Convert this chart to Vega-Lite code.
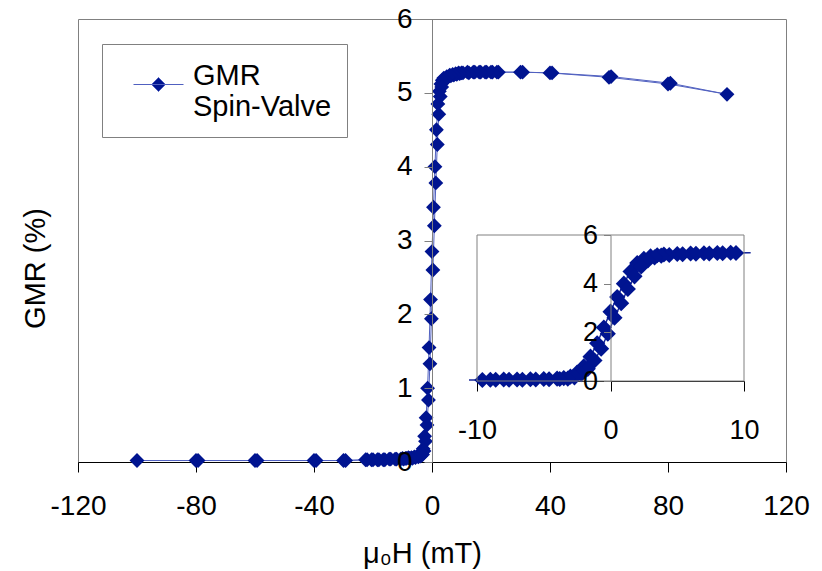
{
  "$schema": "https://vega.github.io/schema/vega-lite/v6.json",
  "width": 708,
  "height": 443,
  "autosize": {"type": "none"},
  "padding": {"left": 78, "top": 19, "right": 36, "bottom": 109},
  "config": {
    "font": "Liberation Sans",
    "view": {"stroke": "#808080", "strokeWidth": 1},
    "axis": {"grid": false, "labelColor": "black", "titleColor": "black", "titleFontWeight": "normal", "labelFont": "Liberation Sans", "titleFont": "Liberation Sans"}
  },
  "data": {
    "values": [
      {"i": 0, "x": -100, "y": 0.02}, {"i": 1, "x": -80, "y": 0.02}, {"i": 2, "x": -60, "y": 0.02}, {"i": 3, "x": -40, "y": 0.02},
      {"i": 4, "x": -30, "y": 0.02}, {"i": 5, "x": -22, "y": 0.03}, {"i": 6, "x": -20, "y": 0.03}, {"i": 7, "x": -18, "y": 0.03},
      {"i": 8, "x": -16, "y": 0.03}, {"i": 9, "x": -14, "y": 0.04}, {"i": 10, "x": -12, "y": 0.04}, {"i": 11, "x": -10, "y": 0.05},
      {"i": 12, "x": -9, "y": 0.05}, {"i": 13, "x": -8, "y": 0.06}, {"i": 14, "x": -7, "y": 0.06}, {"i": 15, "x": -6, "y": 0.07},
      {"i": 16, "x": -5, "y": 0.08}, {"i": 17, "x": -4, "y": 0.1}, {"i": 18, "x": -3.5, "y": 0.12}, {"i": 19, "x": -3, "y": 0.18},
      {"i": 20, "x": -2.5, "y": 0.35}, {"i": 21, "x": -2, "y": 0.6}, {"i": 22, "x": -1.5, "y": 1.0}, {"i": 23, "x": -1, "y": 1.55},
      {"i": 24, "x": -0.5, "y": 2.2}, {"i": 25, "x": 0, "y": 2.85}, {"i": 26, "x": 0.5, "y": 3.45}, {"i": 27, "x": 1, "y": 4.0},
      {"i": 28, "x": 1.5, "y": 4.5}, {"i": 29, "x": 2, "y": 4.85}, {"i": 30, "x": 2.5, "y": 5.02}, {"i": 31, "x": 3, "y": 5.12},
      {"i": 32, "x": 3.5, "y": 5.17}, {"i": 33, "x": 4, "y": 5.2}, {"i": 34, "x": 5, "y": 5.22}, {"i": 35, "x": 6, "y": 5.24},
      {"i": 36, "x": 7, "y": 5.25}, {"i": 37, "x": 8, "y": 5.26}, {"i": 38, "x": 9, "y": 5.27}, {"i": 39, "x": 10, "y": 5.27},
      {"i": 40, "x": 12, "y": 5.28}, {"i": 41, "x": 14, "y": 5.28}, {"i": 42, "x": 16, "y": 5.28}, {"i": 43, "x": 18, "y": 5.28},
      {"i": 44, "x": 20, "y": 5.28}, {"i": 45, "x": 22, "y": 5.28}, {"i": 46, "x": 30, "y": 5.28}, {"i": 47, "x": 40, "y": 5.27},
      {"i": 48, "x": 60, "y": 5.21}, {"i": 49, "x": 80, "y": 5.12}, {"i": 50, "x": 100, "y": 4.98},
      {"i": 51, "x": 80.8, "y": 5.13}, {"i": 52, "x": 60.7, "y": 5.22}, {"i": 53, "x": 40.7, "y": 5.27}, {"i": 54, "x": 30.7, "y": 5.28},
      {"i": 55, "x": 22.5, "y": 5.28}, {"i": 56, "x": 20.5, "y": 5.28}, {"i": 57, "x": 18.5, "y": 5.28}, {"i": 58, "x": 16.5, "y": 5.28},
      {"i": 59, "x": 14.5, "y": 5.28}, {"i": 60, "x": 12.5, "y": 5.27}, {"i": 61, "x": 10.5, "y": 5.27}, {"i": 62, "x": 9.4, "y": 5.26},
      {"i": 63, "x": 8.4, "y": 5.25}, {"i": 64, "x": 7.4, "y": 5.24}, {"i": 65, "x": 6.4, "y": 5.23}, {"i": 66, "x": 5.4, "y": 5.21},
      {"i": 67, "x": 4.4, "y": 5.18}, {"i": 68, "x": 3.8, "y": 5.15}, {"i": 69, "x": 3.3, "y": 5.08}, {"i": 70, "x": 2.8, "y": 4.95},
      {"i": 71, "x": 2.3, "y": 4.71}, {"i": 72, "x": 1.8, "y": 4.3}, {"i": 73, "x": 1.3, "y": 3.78}, {"i": 74, "x": 0.8, "y": 3.2},
      {"i": 75, "x": 0.3, "y": 2.6}, {"i": 76, "x": -0.2, "y": 1.94}, {"i": 77, "x": -0.7, "y": 1.33}, {"i": 78, "x": -1.2, "y": 0.84},
      {"i": 79, "x": -1.7, "y": 0.5}, {"i": 80, "x": -2.2, "y": 0.28}, {"i": 81, "x": -2.7, "y": 0.15}, {"i": 82, "x": -3.2, "y": 0.1},
      {"i": 83, "x": -3.8, "y": 0.08}, {"i": 84, "x": -4.6, "y": 0.07}, {"i": 85, "x": -5.6, "y": 0.06}, {"i": 86, "x": -6.6, "y": 0.05},
      {"i": 87, "x": -7.6, "y": 0.05}, {"i": 88, "x": -8.6, "y": 0.05}, {"i": 89, "x": -9.6, "y": 0.04}, {"i": 90, "x": -10.6, "y": 0.04},
      {"i": 91, "x": -12.5, "y": 0.04}, {"i": 92, "x": -14.5, "y": 0.04}, {"i": 93, "x": -16.5, "y": 0.03}, {"i": 94, "x": -18.5, "y": 0.03},
      {"i": 95, "x": -20.5, "y": 0.03}, {"i": 96, "x": -22.5, "y": 0.03}, {"i": 97, "x": -29.3, "y": 0.02}, {"i": 98, "x": -39.3, "y": 0.02},
      {"i": 99, "x": -59.3, "y": 0.02}, {"i": 100, "x": -79.3, "y": 0.02}
    ]
  },
  "layer": [
    {
      "layer": [
        {
          "mark": {"type": "line", "color": "#5060c0", "strokeWidth": 1},
          "encoding": {
            "x": {"field": "x", "type": "quantitative", "scale": {"domain": [-120, 120], "nice": false, "zero": false},
              "axis": {"orient": "bottom", "values": [-120, -80, -40, 0, 40, 80, 120], "labelExpr": "'' + datum.value", "title": "μ₀H (mT)", "titleFontSize": 29, "labelFontSize": 28, "tickSize": 10, "domainColor": "black", "tickColor": "black", "labelPadding": 20, "titleX": 344, "titleY": 91, "titleBaseline": "middle", "labelFlush": false, "labelOverlap": false}},
            "y": {"field": "y", "type": "quantitative", "scale": {"domain": [0, 6], "nice": false},
              "axis": {"orient": "left", "offset": -354, "values": [0, 1, 2, 3, 4, 5, 6], "labelExpr": "'' + datum.value", "title": "GMR (%)", "titleFontSize": 29, "labelFontSize": 28, "tickSize": 8, "domainColor": "#808080", "tickColor": "#808080", "labelPadding": 12, "titleX": -397, "titleY": 249, "titleBaseline": "middle", "labelFlush": false, "labelOverlap": false, "zindex": 1}},
            "order": {"field": "i", "type": "quantitative"}
          }
        },
        {
          "mark": {"type": "point", "shape": "diamond", "filled": true, "size": 220, "opacity": 1},
          "encoding": {
            "x": {"field": "x", "type": "quantitative", "scale": {"domain": [-120, 120], "nice": false, "zero": false}},
            "y": {"field": "y", "type": "quantitative", "scale": {"domain": [0, 6], "nice": false}},
            "color": {"datum": "GMR Spin-Valve", "scale": {"range": ["#001490"]},
              "legend": {"orient": "none", "legendX": 24, "legendY": 25, "title": null, "padding": 15, "strokeColor": "#808080", "fillColor": "white",
                "symbolType": "M-1,0L1,0M0,-0.28L0.28,0L0,0.28L-0.28,0Z", "symbolSize": 2500, "symbolStrokeColor": "#5060c0", "symbolStrokeWidth": 1, "symbolFillColor": "#001490", "symbolOffset": 16,
                "labelFontSize": 29, "labelOffset": 9, "labelBaseline": "alphabetic", "labelExpr": "['GMR', 'Spin-Valve']", "labelLimit": 400,
                "encode": {"labels": {"update": {"dy": {"value": 10}, "lineHeight": {"value": 35}}}}}}
          }
        }
      ]
    },
    {
      "layer": [
        {
          "transform": [{"filter": "datum.x >= -10.7 && datum.x <= 10.7"}],
          "mark": {"type": "line", "color": "#1a2a9a", "strokeWidth": 1.5, "clip": false},
          "encoding": {
            "x": {"field": "x", "type": "quantitative", "scale": {"domain": [-10, 10], "range": [399, 666], "nice": false, "zero": false},
              "axis": {"orient": "bottom", "offset": -81, "values": [-10, 0, 10], "labelExpr": "'' + datum.value", "title": null, "labelFontSize": 27, "tickSize": 10, "domainColor": "black", "tickColor": "black", "labelPadding": 26, "labelFlush": false, "labelOverlap": false}},
            "y": {"field": "y", "type": "quantitative", "scale": {"domain": [0, 6], "range": [362, 216], "nice": false},
              "axis": {"orient": "left", "offset": -532.5, "values": [0, 2, 4, 6], "labelExpr": "'' + datum.value", "title": null, "labelFontSize": 27, "tickSize": 7, "domainColor": "#808080", "tickColor": "#808080", "labelPadding": 6, "labelFlush": false, "labelOverlap": false, "zindex": 1}},
            "order": {"field": "i", "type": "quantitative"}
          }
        },
        {
          "transform": [{"filter": "datum.x > -9.8 && datum.x < 9.8"}],
          "mark": {"type": "point", "shape": "diamond", "filled": true, "size": 260, "opacity": 1, "color": "#001490"},
          "encoding": {
            "x": {"field": "x", "type": "quantitative", "scale": {"domain": [-10, 10], "range": [399, 666], "nice": false, "zero": false}},
            "y": {"field": "y", "type": "quantitative", "scale": {"domain": [0, 6], "range": [362, 216], "nice": false}}
          }
        },
        {
          "data": {"values": [{}]},
          "mark": {"type": "rect", "fill": "transparent", "stroke": "#808080", "strokeWidth": 1},
          "encoding": {
            "x": {"datum": -10, "type": "quantitative", "scale": {"domain": [-10, 10], "range": [399, 666], "nice": false, "zero": false}},
            "x2": {"datum": 10},
            "y": {"datum": 0, "type": "quantitative", "scale": {"domain": [0, 6], "range": [362, 216], "nice": false}},
            "y2": {"datum": 6}
          }
        }
      ]
    }
  ],
  "resolve": {"scale": {"x": "independent", "y": "independent"}}
}
